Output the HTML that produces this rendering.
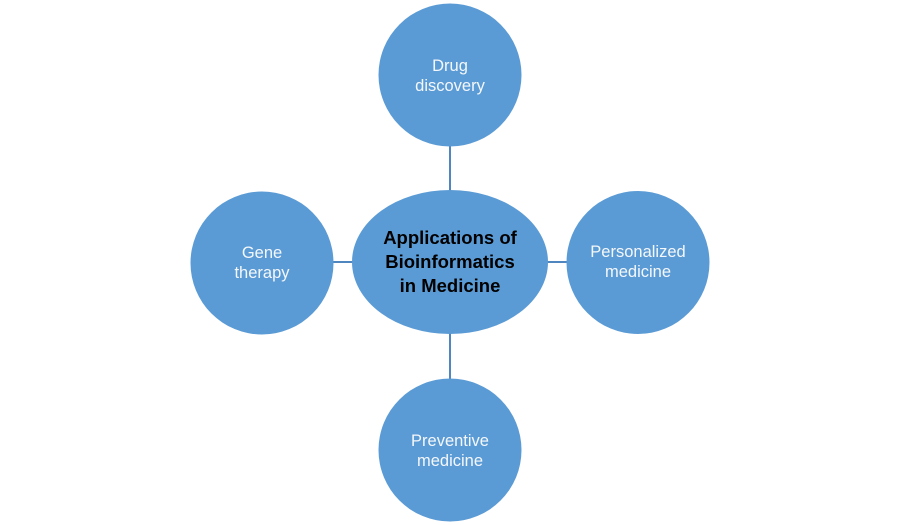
<!DOCTYPE html>
<html><head><meta charset="utf-8"><style>
html,body{margin:0;padding:0;background:#fff;}
svg{display:block;}
</style></head><body>
<svg width="900" height="525" viewBox="0 0 900 525" xmlns="http://www.w3.org/2000/svg">
<g stroke="#4f86c0" stroke-width="2">
<line x1="450" y1="146" x2="450" y2="191"/>
<line x1="450" y1="333" x2="450" y2="379"/>
<line x1="333" y1="262" x2="353" y2="262"/>
<line x1="547" y1="262" x2="567" y2="262"/>
</g>
<g fill="#5b9bd5">
<circle cx="450" cy="75" r="71.5"/>
<circle cx="262" cy="263" r="71.5"/>
<circle cx="638" cy="262.5" r="71.5"/>
<circle cx="450" cy="450" r="71.5"/>
<ellipse cx="450" cy="262" rx="98" ry="72"/>
</g>
<g font-family="'Liberation Sans', sans-serif" font-size="16.5" fill="#f4f7fb" text-anchor="middle">
<text x="450" y="71">Drug</text>
<text x="450" y="91">discovery</text>
<text x="262" y="258">Gene</text>
<text x="262" y="278">therapy</text>
<text x="638" y="257">Personalized</text>
<text x="638" y="277">medicine</text>
<text x="450" y="446">Preventive</text>
<text x="450" y="466">medicine</text>
</g>
<g font-family="'Liberation Sans', sans-serif" font-size="18.5" font-weight="bold" fill="#000" text-anchor="middle">
<text x="450" y="244">Applications of</text>
<text x="450" y="268">Bioinformatics</text>
<text x="450" y="292">in Medicine</text>
</g>
</svg>
</body></html>
